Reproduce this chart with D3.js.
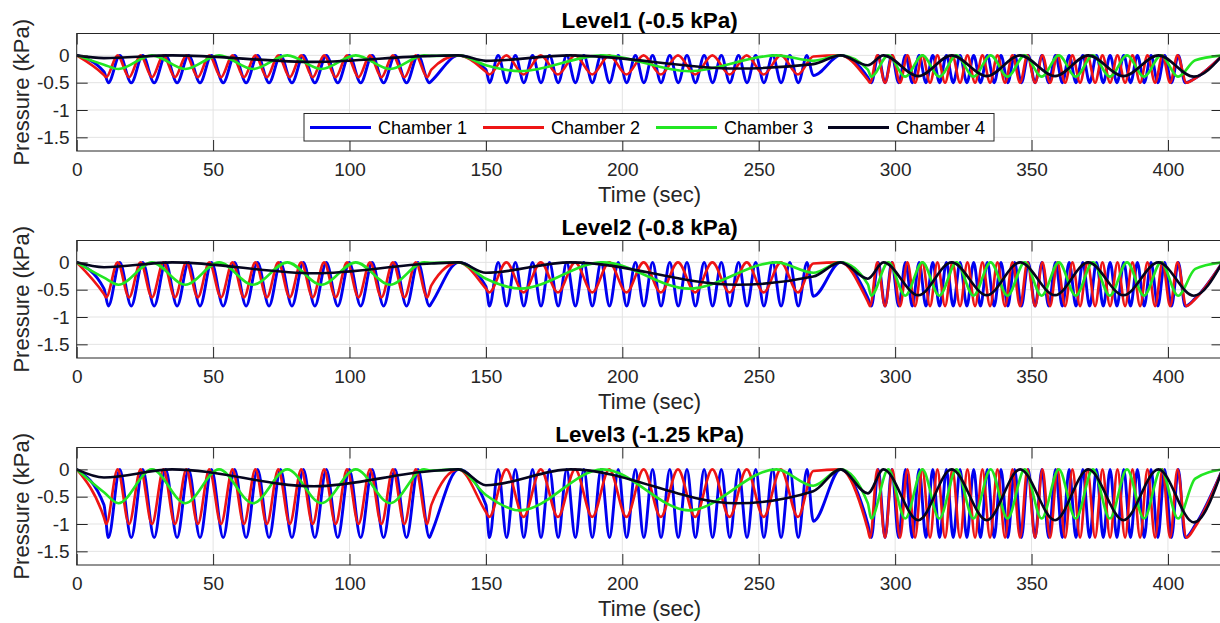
<!DOCTYPE html>
<html><head><meta charset="utf-8">
<script src="https://cdn.jsdelivr.net/npm/d3@7/dist/d3.min.js"></script>
<style>
body{margin:0;background:#fff;}
svg{display:block;font-family:"Liberation Sans",Arial,Helvetica,sans-serif;}
</style></head><body>
<svg id="chart" width="1220" height="623"></svg>
<script>
// ================= DATA =================
const panelTitles = ["Level1 (-0.5 kPa)", "Level2 (-0.8 kPa)", "Level3 (-1.25 kPa)"];
const chamberNames = ["Chamber 1", "Chamber 2", "Chamber 3", "Chamber 4"];
const chamberColors = ["#0000f0", "#ee1515", "#22e622", "#05051e"];
const xTicks = [0, 50, 100, 150, 200, 250, 300, 350, 400];
const yTicks = [0, -0.5, -1, -1.5];
const yTickLabels = ["0", "-0.5", "-1", "-1.5"];

// ---- Chamber 1 (blue): times of peaks (0 kPa) and troughs, per segment
const c1PeakT = [
  15.8,24.2,32.6,41.0,49.4,57.9,66.3,74.7,83.1,91.5,99.9,108.3,116.7,125.1,
  154.5,160.8,167.1,173.3,179.6,185.9,192.2,198.5,204.8,211.1,217.4,223.7,230.0,236.3,242.6,248.9,255.1,261.4,267.7,
  293.8,298.8,303.8,308.8,313.8,318.8,323.8,328.8,333.8,338.8,343.8,348.8,353.8,358.8,363.8,368.8,373.8,378.8,383.8,388.8,393.8,398.8,403.8
];
const c1TroughT = [
  [11.6,20.0,28.4,36.8,45.2,53.7,62.1,70.5,78.9,87.3,95.7,104.1,112.5,120.9,129.3],
  [151.3,157.6,163.9,170.2,176.5,182.8,189.0,195.3,201.6,207.9,214.2,220.5,226.8,233.1,239.4,245.7,251.9,258.2,264.5],
  [291.3,296.3,301.3,306.3,311.3,316.3,321.3,326.3,331.3,336.3,341.3,346.3,351.3,356.3,361.3,366.3,371.3,376.3,381.3,386.3,391.3,396.3,401.3,406.3]
];
// trough depth [level][segment]
const c1TroughV = [[-0.5,-0.5,-0.5],[-0.8,-0.8,-0.8],[-1.25,-1.25,-1.25]];
// ramp / break points: [t, Level1, Level2, Level3]
const c1Knots = [
  [0,0,0,0],[10,-0.3,-0.48,-0.65],[130,-0.47,-0.75,-1.17],[140,0,0,0],
  [150,-0.26,-0.44,-0.65],[270,-0.37,-0.62,-0.95],[280,0,0,0],
  [290,-0.4,-0.65,-1.0],[410,-0.42,-0.66,-1.02],[420,0,0,0]
];

// ---- Chamber 2 (red)
const c2PeakT = [
  15.0,23.4,31.8,40.2,48.6,57.1,65.5,73.9,82.3,90.7,99.1,107.5,115.9,124.3,
  157.5,170.1,182.7,195.2,207.8,220.4,233.0,245.6,258.1,
  293.5,299.0,304.5,310.0,315.5,321.0,326.5,332.0,337.5,343.0,348.5,354.0,359.5,365.0,370.5,376.0,381.5,387.0,392.5,398.0,403.5
];
const c2TroughT = [
  [10.8,19.2,27.6,36.0,44.4,52.9,61.3,69.7,78.1,86.5,94.9,103.3,111.7,120.1,128.5],
  [151.2,163.8,176.4,189.0,201.5,214.1,226.7,239.3,251.8,264.4],
  [290.8,296.3,301.8,307.3,312.8,318.3,323.8,329.3,334.8,340.3,345.8,351.3,356.8,362.3,367.8,373.3,378.8,384.3,389.8,395.3,400.8,406.8]
];
const c2TroughV = [[-0.4,-0.35,-0.5],[-0.64,-0.55,-0.8],[-1.0,-0.87,-1.25]];
const c2Knots = [
  [0,0,0,0],[10,-0.36,-0.58,-0.88],[130,-0.26,-0.42,-0.65],[140,0,0,0],
  [150,-0.3,-0.48,-0.78],[270,-0.02,-0.02,-0.03],[280,0,0,0],
  [290,-0.45,-0.72,-1.1],[410,-0.42,-0.67,-1.05],[420,0,0,0]
];

// ---- Chamber 3 (green)
const c3PeakT = [
  27.6,52.2,77.2,102.3,127.3,
  192.8,256.5,
  297.5,310.0,322.5,335.0,347.5,360.0,372.5,385.0,397.5
];
const c3TroughT = [
  [15.3,39.8,64.6,89.7,114.9],
  [162.5,224.5],
  [291.2,303.7,316.2,328.7,341.2,353.7,366.2,378.7,391.2,403.7]
];
const c3TroughV = [[-0.25,-0.29,-0.39],[-0.41,-0.48,-0.61],[-0.62,-0.75,-0.9]];
const c3Knots = [
  [0,0,0,0],[10,-0.17,-0.28,-0.42],[130,-0.01,-0.01,-0.02],[140,0,0,0],
  [150,-0.18,-0.3,-0.47],[270,-0.1,-0.19,-0.3],[280,0,0,0],
  [290,-0.26,-0.4,-0.62],[410,-0.09,-0.12,-0.17],[420,0,0,0]
];

// ---- Chamber 4 (black): all points [t, Level1, Level2, Level3]
const c4Knots = [
  [0,0,0,0],[10,-0.05,-0.09,-0.15],[35,0,0,0],[87,-0.12,-0.2,-0.31],[130,-0.01,-0.02,-0.03],[140,0,0,0],
  [150,-0.1,-0.19,-0.29],[181,0,0,0],[242,-0.24,-0.41,-0.62],[270,-0.16,-0.26,-0.4],[280,0,0,0],
  [290,-0.18,-0.3,-0.44],[295.7,0,0,0],[308.5,-0.38,-0.6,-0.93],[320.7,0,0,0],[333.6,-0.38,-0.6,-0.93],
  [345.8,0,0,0],[358.6,-0.38,-0.6,-0.93],[370.8,0,0,0],[383.7,-0.38,-0.6,-0.93],[396.5,0,0,0],
  [409.5,-0.39,-0.61,-0.97],[420,0,0,0]
];

// ================= BUILD SERIES =================
function buildSeries(peakT, troughT, troughV, knots, li) {
  const pts = [];
  knots.forEach(k => pts.push([k[0], k[1 + li]]));
  peakT.forEach(t => pts.push([t, 0]));
  troughT.forEach((seg, si) => seg.forEach(t => pts.push([t, troughV[li][si]])));
  pts.sort((a, b) => a[0] - b[0]);
  return pts;
}
function seriesForLevel(li) {
  return [
    buildSeries(c1PeakT, c1TroughT, c1TroughV, c1Knots, li),
    buildSeries(c2PeakT, c2TroughT, c2TroughV, c2Knots, li),
    buildSeries(c3PeakT, c3TroughT, c3TroughV, c3Knots, li),
    buildSeries([], [], null, c4Knots, li)
  ];
}

// ================= DRAW =================
const svg = d3.select("#chart");
const plotLeft = 76.7, plotRight = 1222.5;
const panelTops = [33.5, 240.5, 447.5];
const panelH = 117.5;
const axisColor = "#262626";

const x = d3.scaleLinear().domain([0, 420]).range([plotLeft, plotRight]);

svg.append("defs").selectAll("clipPath").data(panelTops).join("clipPath")
  .attr("id", (d, i) => "clip" + i)
  .append("rect").attr("x", plotLeft).attr("y", d => d).attr("width", plotRight - plotLeft).attr("height", panelH);

panelTops.forEach((top, pi) => {
  const y = d3.scaleLinear().domain([-1.75, 0.4]).range([top + panelH, top]);
  const g = svg.append("g");

  g.append("rect").attr("x", plotLeft).attr("y", top).attr("width", plotRight - plotLeft).attr("height", panelH).attr("fill", "#fff");

  // grid
  g.append("g").selectAll("line").data(xTicks).join("line")
    .attr("x1", d => x(d)).attr("x2", d => x(d)).attr("y1", top).attr("y2", top + panelH)
    .attr("stroke", "#e3e3e3").attr("stroke-width", 1);
  g.append("g").selectAll("line").data(yTicks).join("line")
    .attr("x1", plotLeft).attr("x2", plotRight).attr("y1", d => y(d)).attr("y2", d => y(d))
    .attr("stroke", "#e3e3e3").attr("stroke-width", 1);

  // data
  const line = d3.line().x(d => x(d[0])).y(d => y(d[1])).curve(d3.curveMonotoneX);
  const series = seriesForLevel(pi);
  g.append("g").attr("clip-path", `url(#clip${pi})`)
    .selectAll("path").data(series).join("path")
    .attr("d", line).attr("fill", "none")
    .attr("stroke", (d, i) => chamberColors[i])
    .attr("stroke-width", (d, i) => i === 0 ? 2.9 : 2.6)
    .attr("stroke-linejoin", "round");

  // axes (MATLAB style inward ticks)
  const axB = d3.axisBottom(x).tickValues(xTicks).tickSizeInner(-11).tickSizeOuter(0).tickPadding(12).tickFormat(d3.format("d"));
  const axT = d3.axisTop(x).tickValues(xTicks).tickSizeInner(-11).tickSizeOuter(0).tickFormat("");
  const axL = d3.axisLeft(y).tickValues(yTicks).tickSizeInner(-11).tickSizeOuter(0).tickPadding(7).tickFormat((d, i) => yTickLabels[i]);
  const axR = d3.axisRight(y).tickValues(yTicks).tickSizeInner(-11).tickSizeOuter(0).tickFormat("");

  const styleAxis = sel => {
    sel.select(".domain").remove();
    sel.selectAll(".tick line").attr("stroke", axisColor).attr("stroke-width", 1);
    sel.selectAll(".tick text").attr("fill", axisColor).style("font-size", "19px")
      .style("font-family", '"Liberation Sans",Arial,sans-serif');
  };
  g.append("g").attr("transform", `translate(0,${top + panelH})`).call(axB).call(styleAxis);
  g.append("g").attr("transform", `translate(0,${top})`).call(axT).call(styleAxis);
  g.append("g").attr("transform", `translate(${plotLeft},0)`).call(axL).call(styleAxis);
  g.append("g").attr("transform", `translate(${plotRight},0)`).call(axR).call(styleAxis);

  g.append("rect").attr("x", plotLeft).attr("y", top).attr("width", plotRight - plotLeft).attr("height", panelH)
    .attr("fill", "none").attr("stroke", axisColor).attr("stroke-width", 1);

  // labels
  g.append("text").attr("x", (plotLeft + plotRight) / 2).attr("y", top - 6)
    .attr("text-anchor", "middle").attr("font-weight", "bold").attr("font-size", 22.5).attr("fill", "#000")
    .text(panelTitles[pi]);
  g.append("text").attr("x", (plotLeft + plotRight) / 2).attr("y", top + panelH + 51)
    .attr("text-anchor", "middle").attr("font-size", 22).attr("fill", axisColor)
    .text("Time (sec)");
  g.append("text").attr("transform", `translate(29,${top + panelH / 2}) rotate(-90)`)
    .attr("text-anchor", "middle").attr("font-size", 22).attr("fill", axisColor)
    .text("Pressure (kPa)");

  if (pi === 0) {
    const lg = g.append("g");
    lg.append("rect").attr("x", 304).attr("y", 113.5).attr("width", 690).attr("height", 27.5)
      .attr("fill", "#fff").attr("stroke", axisColor).attr("stroke-width", 1);
    const itemX = [310, 483, 656, 828];
    chamberNames.forEach((name, i) => {
      lg.append("line").attr("x1", itemX[i]).attr("x2", itemX[i] + 61).attr("y1", 127.5).attr("y2", 127.5)
        .attr("stroke", chamberColors[i]).attr("stroke-width", 2.8);
      lg.append("text").attr("x", itemX[i] + 68).attr("y", 127.5).attr("dy", "0.35em")
        .attr("font-size", 18).attr("fill", "#000").text(name);
    });
  }
});
</script>
</body></html>
